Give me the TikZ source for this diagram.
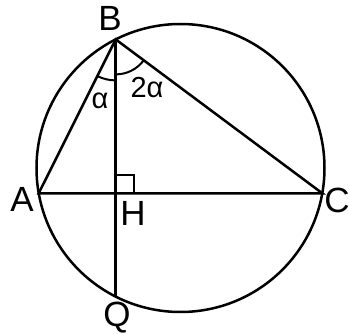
\documentclass[tikz,border=0pt]{standalone}
\usepackage{fontspec}
\setmainfont{Liberation Sans}
\usetikzlibrary{calc}

\begin{document}
\begin{tikzpicture}[x=1pt,y=1pt,line width=2.5pt,
    ptlabel/.style={inner sep=0pt,font=\fontsize{35}{35}\selectfont},
    anglabel/.style={inner sep=0pt,font=\fontsize{29}{29}\selectfont}]
  \useasboundingbox (0,0) rectangle (349,-334);
  % circle and points on it
  \coordinate (O) at (180.5,-168);
  \coordinate (B) at (115.7,-39.4);
  \coordinate (A) at (38.7,-193.3);
  \coordinate (C) at (322.3,-193.3);
  \coordinate (H) at (115.7,-193.3);
  \coordinate (Q) at (115.7,-296.6);
  \draw (O) circle[radius=144];
  % triangle and the chord through H
  \draw (A) -- (B) -- (C) -- cycle;
  \draw (B) -- (Q);
  \draw[line width=2pt] ($(H)+(0,18)$) -- ++(18,0) -- ++(0,-18);
  % angles at B
  \draw[line width=2pt] ($(B)+(243.5:41)$) arc[start angle=243.5,end angle=270,radius=41];
  \draw[line width=2pt] ($(B)+(270:35)$) arc[start angle=270,end angle=323.2,radius=35];
  \node[anglabel] (alpha) at (100,-101) {α};
  \node[anglabel] (twoalpha) at (147,-88) {2α};
  % point names
  \node[ptlabel] (lblB) at (110,-18) {B};
  \node[ptlabel] (lblA) at (22,-199) {A};
  \node[ptlabel] (lblC) at (337,-200) {C};
  \node[ptlabel] (lblH) at (133,-213) {H};
  \node[ptlabel] (lblQ) at (117,-318) {Q};
\end{tikzpicture}
\end{document}
